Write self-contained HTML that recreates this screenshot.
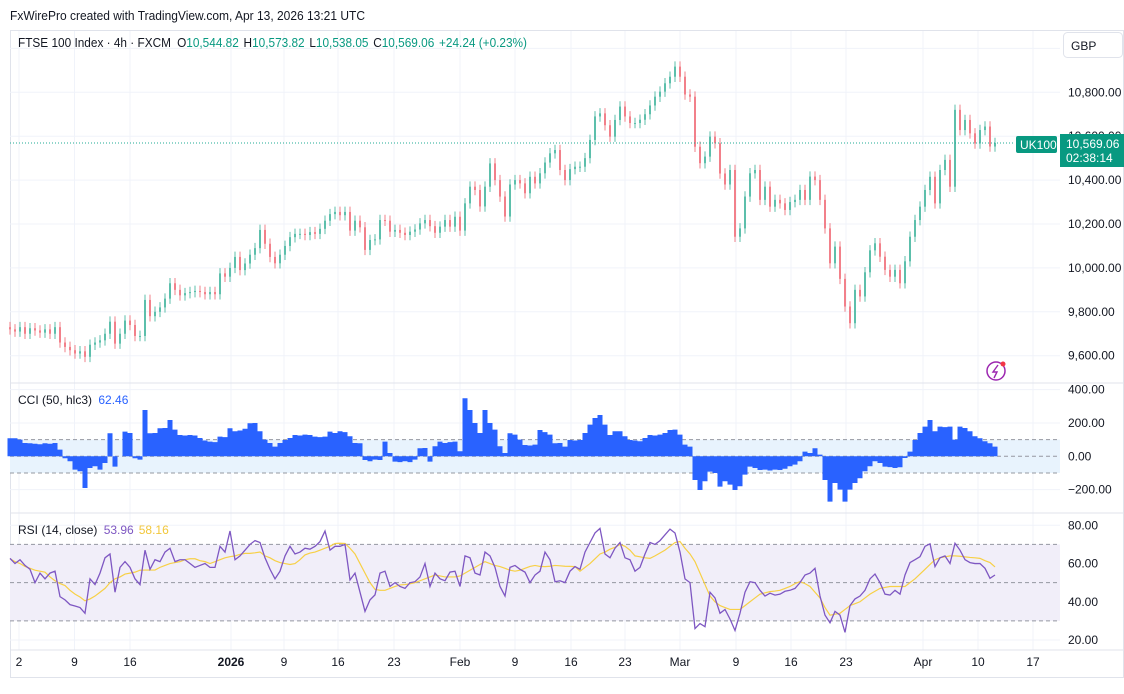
<!DOCTYPE html>
<html><head><meta charset="utf-8"><style>
html,body{margin:0;padding:0;background:#fff;}
svg{display:block;font-family:"Liberation Sans",sans-serif;}
</style></head><body>
<svg id="chart" width="1124" height="694" viewBox="0 0 1124 694">
<text x="10" y="20" font-size="12.5" fill="#131722" textLength="355" lengthAdjust="spacingAndGlyphs">FxWirePro created with TradingView.com, Apr 13, 2026 13:21 UTC</text>
<rect x="10.5" y="30.5" width="1113" height="647" fill="#fff" stroke="#e0e3eb"/>
<g id="grid"></g>
<rect x="10" y="439.6" width="1050" height="33.4" fill="#e8f3fd"/>
<rect x="10" y="544.4" width="1050" height="76.5" fill="#f1eef9"/>
<g id="dashes"></g>
<g id="candles"></g>
<g id="cci"></g>
<g id="rsi"></g>
<g id="axes"></g>
<line x1="10" y1="143" x2="1015" y2="143" stroke="#22ab94" stroke-dasharray="1,2"/>
<text x="18" y="47" font-size="12.5" fill="#131722" textLength="509" lengthAdjust="spacingAndGlyphs">FTSE 100 Index · 4h · FXCM <tspan dx="3">O</tspan><tspan fill="#089981">10,544.82</tspan><tspan dx="5">H</tspan><tspan fill="#089981">10,573.82</tspan><tspan dx="5">L</tspan><tspan fill="#089981">10,538.05</tspan><tspan dx="5">C</tspan><tspan fill="#089981">10,569.06</tspan><tspan dx="5" fill="#089981">+24.24 (+0.23%)</tspan></text>
<text x="18" y="404" font-size="12" fill="#131722">CCI (50, hlc3) <tspan fill="#2962ff" dx="3">62.46</tspan></text>
<text x="18" y="534" font-size="12" fill="#131722">RSI (14, close) <tspan fill="#7e57c2" dx="3">53.96</tspan><tspan fill="#f2c73a" dx="5">58.16</tspan></text>
<rect x="1063.5" y="32.5" width="59" height="25" rx="4" fill="#fff" stroke="#e0e3eb"/>
<text x="1071" y="50" font-size="12" fill="#131722">GBP</text>
<rect x="1016" y="136" width="41" height="17" rx="2" fill="#089981"/>
<text x="1020" y="149" font-size="12" fill="#fff">UK100</text>
<rect x="1060" y="134" width="64" height="33" fill="#089981"/>
<text x="1066" y="148" font-size="12" fill="#fff">10,569.06</text>
<text x="1066" y="162" font-size="12" fill="#fff">02:38:14</text>
<g><circle cx="996" cy="371" r="9" fill="none" stroke="#9c27b0" stroke-width="1.5"/><path d="M998 365 L993 372 L997 372 L994 378" fill="none" stroke="#9c27b0" stroke-width="1.4"/><circle cx="1003" cy="364" r="2.5" fill="#f23645"/></g>
</svg>
<script>
const closes=[9720,9710,9730,9700,9725,9715,9705,9720,9700,9730,
9660,9640,9625,9610,9620,9595,9650,9660,9670,9700,
9755,9655,9700,9760,9740,9690,9690,9854,9780,9800,
9820,9860,9930,9900,9875,9885,9890,9895,9890,9880,
9890,9880,9975,9960,10000,10050,9990,10020,10060,10090,
10173,10110,10050,10021,10060,10100,10140,10155,10155,10150,
10163,10155,10178,10215,10245,10255,10240,10255,10170,10215,
10185,10082,10127,10130,10218,10215,10165,10173,10160,10150,
10165,10175,10203,10218,10190,10160,10188,10218,10188,10233,
10170,10294,10370,10355,10280,10370,10476,10400,10325,10234,
10380,10400,10385,10340,10415,10385,10431,10480,10522,10537,
10446,10400,10450,10461,10461,10500,10583,10690,10704,10650,
10598,10674,10735,10690,10660,10660,10675,10700,10740,10780,
10803,10841,10871,10917,10871,10790,10780,10552,10477,10507,
10598,10568,10430,10380,10446,10142,10180,10325,10431,10446,
10310,10370,10279,10310,10294,10264,10300,10310,10355,10310,
10416,10400,10310,10180,10021,10097,9950,9824,9748,9900,
9870,9980,10080,10112,10051,9991,9960,9991,9930,10030,
10142,10218,10279,10355,10415,10294,10446,10492,10370,10720,
10628,10674,10613,10567,10628,10644,10553,10569];
const cciVals=[108,108,100,80,78,75,72,78,75,80,
40,-12,-30,-80,-90,-190,-70,-60,-80,-40,
138,-62,0,148,140,-12,-20,278,138,140,
168,170,218,160,128,125,128,125,110,95,
88,85,118,115,168,150,155,165,198,200,
150,100,80,58,80,98,110,128,125,130,
128,118,115,118,148,140,150,145,120,80,
78,-22,-30,-20,-22,88,20,-32,-35,-30,
-35,-20,48,50,-32,60,88,80,85,88,
30,348,278,200,140,278,200,160,60,20,
138,130,100,68,65,70,158,145,130,78,
80,58,98,95,98,140,190,230,248,190,
128,150,150,120,98,95,90,110,128,125,
130,140,158,160,130,70,58,-142,-202,-150,
-92,-100,-182,-150,-170,-202,-180,-110,-62,-70,
-82,-80,-85,-80,-82,-75,-60,-50,-30,28,
20,48,10,-142,-272,-160,-200,-272,-200,-160,
-132,-90,-60,-30,-40,-62,-65,-70,-66,-10,
28,98,140,178,218,150,178,175,178,100,
178,170,150,120,108,90,78,58];
const rsiVals=[62.7,60,62,59,57,50,55,52,55,56,
42.7,41,38.5,37.8,37,34,52,49,55,63,
65,45,58,61,58,52,49,67,57,62,
61,66,68,61,62,62,60,58,59,60,
58,58,69,66,77,62,64,67,70,72,
71,63,57,52,56,64,69,65,66,68,
67.5,69,71.5,77,67,69,69,70,51.4,55,
45,35,41,43.6,55,56,48,50,48,47,
50,50.5,53,60,48,55,52,51,55.5,56,
48,64,63,55,54,66,64,58,48,43,
58,59,57,55.5,50,54,56,66,62,50.5,
51,50,56,58.4,57,66,71,76,78.4,65,
63,68,71,63,62,56,58,65,71,70,
72,75,78,76,66,52,50,26,28.6,27,
45,42,34,36,31,25,34,45,50.5,50,
46,43,44.5,43.5,44,45.5,46,47,50,54,
55,57.5,43,33,29,35,33,24,38,41.5,
43,46,52,54.5,50,44,43.5,46,44,54,
60.5,62,63.6,69,70.3,58.4,63,64,60,70.6,
67,62,60.5,60,60,57.5,52.3,54];
const rsiSignal=[62.5,61,60,58.5,57.5,56.5,56,55.5,53,51,
49.5,48.5,46,44,42.5,40.5,41.5,43,45,47,
50,52,53,54.5,55,55.5,56.5,56.6,56.6,56.6,
58,59,60,60.5,61,62,62.5,62.5,61.5,61,
60,61,62,63,63.6,64,64.8,65.3,65.3,65.6,
66,64,63,61.5,60.5,60,59.5,60,62,64.5,
65.5,66,67,68,69,70.5,70.6,70.5,68,65,
60,55,50,46.5,46,46,47,48,48.8,49,
49.4,50,51,52,53,54,53.5,53,53,53,
53.5,55,56.5,58,59.5,61,60,59,58.4,57.5,
56.5,56,56.5,57.5,58.5,59,58.5,58.4,58.6,59,
58.8,58.6,58.5,58.4,56,58,60,62.5,65,66,
67.5,68.5,70,69,67,64,63.5,63,62.7,64,
65.5,67,69,71,71.5,68,65,61,55,49,
43,40,38,37,36,36,36,38,40,42,
44,44.7,45.3,45.6,46,47,48,49.5,50.5,49.5,
48,45,42,37,33,33.5,34,36,38,39,
40,42,44,45.5,47,47.5,48,48,48,48,
50,52,54.5,57,59.5,62,63,63.5,64,64,
63.8,63.5,63.2,63,62.7,61.5,60.5,58.2];
const priceTicks=[10800,10600,10400,10200,10000,9800,9600];
const priceTickLabels=["10,800.00","10,600.00","10,400.00","10,200.00","10,000.00","9,800.00","9,600.00"];
const cciTicks=[400,200,0,-200];
const cciTickLabels=["400.00","200.00","0.00","\u2212200.00"];
const rsiTicks=[80,60,40,20];
const rsiTickLabels=["80.00","60.00","40.00","20.00"];
const timeLabels=["2","9","16","2026","9","16","23","Feb","9","16","23","Mar","9","16","23","Apr","10","17"];
const timeIdx=[1.8,12.9,24,44.2,54.8,65.6,76.8,90,101,112.2,123,134,145.2,156.2,167.2,182.6,193.6,204.6];

const NS="http://www.w3.org/2000/svg";
const xOf=i=>10+i*5;
const yP=p=>92.3+(10800-p)*0.2195;
const yC=v=>456.3-v*0.1667;
const yR=v=>525.3+(80-v)*1.912;
function mk(tag,attrs,parent){const e=document.createElementNS(NS,tag);for(const k in attrs)e.setAttribute(k,attrs[k]);parent.appendChild(e);return e;}
const grid=document.getElementById('grid'),axes=document.getElementById('axes'),dashes=document.getElementById('dashes');
timeIdx.forEach((ti,k)=>{const x=xOf(ti);
 const l=mk('line',{x1:x,y1:31,x2:x,y2:650,stroke:'#f0f3fa'},grid);
 
 
 const t=mk('text',{x:x,y:666,'font-size':12,'text-anchor':'middle',fill:'#131722','font-weight':timeLabels[k]==='2026'?'bold':'normal'},axes);
 t.textContent=timeLabels[k];
 
 
});
[11000].concat(priceTicks).forEach(p=>{const l=mk('line',{x1:10,y1:yP(p),x2:1060,y2:yP(p),stroke:'#f0f3fa'},grid);
 
 });
priceTicks.forEach((p,k)=>{const t=mk('text',{x:1068,y:yP(p)+4,'font-size':12,fill:'#131722'},axes);t.textContent=priceTickLabels[k];
 
 });
cciTicks.forEach((v,k)=>{mk('line',{x1:10,y1:yC(v),x2:1060,y2:yC(v),stroke:'#f0f3fa'},grid);
 const t=mk('text',{x:1068,y:yC(v)+4,'font-size':12,fill:'#131722'},axes);t.textContent=cciTickLabels[k];
 
 });
rsiTicks.forEach((v,k)=>{mk('line',{x1:10,y1:yR(v),x2:1060,y2:yR(v),stroke:'#f0f3fa'},grid);
 const t=mk('text',{x:1068,y:yR(v)+4,'font-size':12,fill:'#131722'},axes);t.textContent=rsiTickLabels[k];
 
 });
[383,513,650].forEach(y=>{mk('line',{x1:10,y1:y,x2:1124,y2:y,stroke:'#e0e3eb'},grid);});
[100,0,-100].forEach(v=>mk('line',{x1:10,y1:yC(v),x2:1060,y2:yC(v),stroke:'#9598a1','stroke-dasharray':'4,3'},dashes));
[70,50,30].forEach(v=>mk('line',{x1:10,y1:yR(v),x2:1060,y2:yR(v),stroke:'#9598a1','stroke-dasharray':'4,3'},dashes));
const cg=document.getElementById('candles');
closes.forEach((c,i)=>{const o=i?closes[i-1]:c+10;const up=c>=o;const col=up?'#5cbfab':'#f2808a';
 const x=xOf(i);const hi=Math.max(o,c)+24,lo=Math.min(o,c)-24;
 const g=mk('g',{},cg);
 
 
 mk('line',{x1:x,y1:yP(hi),x2:x,y2:yP(lo),stroke:col,'stroke-width':1},g);
 const top=yP(Math.max(o,c)),h=Math.max(1,yP(Math.min(o,c))-top);
 mk('rect',{x:x-1,y:top,width:2,height:h,fill:col},g);
});
let d='M'+(xOf(0)-2.5)+' '+yC(0);
cciVals.forEach((v,i)=>{d+=' L'+(xOf(i)-2.5)+' '+yC(v)+' L'+(xOf(i)+2.5)+' '+yC(v);});
d+=' L'+(xOf(cciVals.length-1)+2.5)+' '+yC(0)+' Z';
const ca=mk('path',{d:d,fill:'#2962ff'},document.getElementById('cci'));


const rg=document.getElementById('rsi');
const sl=mk('polyline',{points:rsiSignal.map((v,i)=>xOf(i)+','+yR(v)).join(' '),fill:'none',stroke:'#f7d046','stroke-width':1.2},rg);


const rl=mk('polyline',{points:rsiVals.map((v,i)=>xOf(i)+','+yR(v)).join(' '),fill:'none',stroke:'#7e57c2','stroke-width':1.3},rg);


</script>
</body></html>
